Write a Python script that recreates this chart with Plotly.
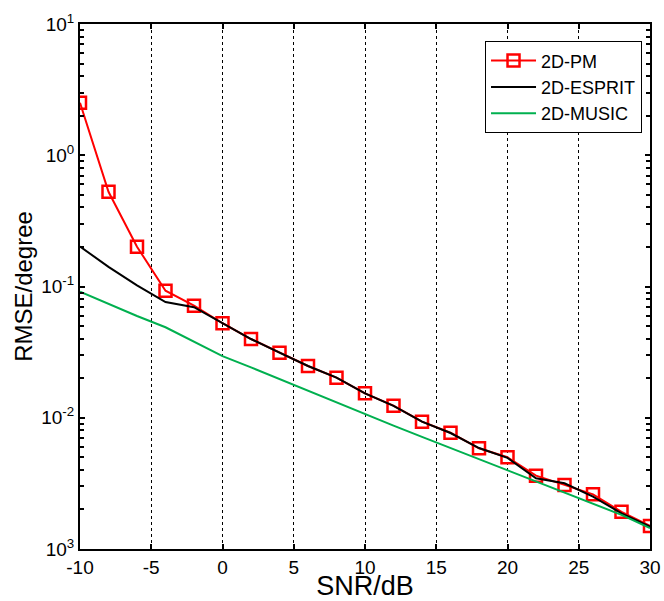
import plotly.graph_objects as go

snr = [-10, -8, -6, -4, -2, 0, 2, 4, 6, 8, 10, 12, 14, 16, 18, 20, 22, 24, 26, 28, 30]
pm = [2.51, 0.527, 0.201, 0.0929, 0.0714, 0.0525, 0.0398, 0.0313, 0.0248, 0.0202, 0.01535,
      0.01236, 0.00933, 0.00769, 0.00585, 0.0050, 0.00362, 0.00308, 0.00261, 0.00192, 0.0015]
esprit = [0.2018, 0.141, 0.102, 0.0762, 0.0695, 0.0525, 0.0398, 0.0313, 0.0248, 0.0202, 0.01535,
          0.01230, 0.00933, 0.00765, 0.00588, 0.00495, 0.00346, 0.00317, 0.00251, 0.00187, 0.00148]
music = [0.0914, 0.0738, 0.0596, 0.0489, 0.0380, 0.0295, 0.0242, 0.0197, 0.0160, 0.0131, 0.0106,
         0.00871, 0.00715, 0.00587, 0.00483, 0.00397, 0.00327, 0.00269, 0.00221, 0.00182, 0.00144]

x_ticks = [-10, -5, 0, 5, 10, 15, 20, 25, 30]
x_ticklabels = ["-10", "-5", "0", "5", "10", "15", "20", "25", "30"]
decades = [1e-3, 1e-2, 1e-1, 1e0, 1e1]
decade_labels = ["10<sup>3</sup>", "10<sup>-2</sup>", "10<sup>-1</sup>", "10<sup>0</sup>", "10<sup>1</sup>"]
minor_mult = [2, 3, 4, 5, 6, 7, 8, 9]

minor_vals = [d * m for d in decades[:-1] for m in minor_mult]

fig = go.Figure()
fig.add_trace(go.Scatter(x=snr, y=pm, name="2D-PM", mode="lines+markers",
                         line=dict(color="#ff0000", width=2),
                         marker=dict(symbol="square-open", size=12, color="#ff0000",
                                     line=dict(width=2.5, color="#ff0000"))))
fig.add_trace(go.Scatter(x=snr, y=esprit, name="2D-ESPRIT", mode="lines",
                         line=dict(color="#000000", width=2)))
fig.add_trace(go.Scatter(x=snr, y=music, name="2D-MUSIC", mode="lines",
                         line=dict(color="#00b04f", width=2)))

fig.update_layout(
    width=664, height=601,
    margin=dict(l=80, r=14, t=24, b=52),
    paper_bgcolor="white", plot_bgcolor="white",
    font=dict(family="Liberation Sans, Arial, sans-serif", size=19, color="black"),
    showlegend=True,
    legend=dict(x=0.986, y=0.967, xanchor="right", yanchor="top",
                bgcolor="white", bordercolor="black", borderwidth=1,
                font=dict(size=18), tracegroupgap=0, itemwidth=45),
)
fig.update_xaxes(
    range=[-10, 30], tickvals=x_ticks, ticktext=x_ticklabels,
    ticks="inside", ticklen=5, tickwidth=1.5, tickcolor="black",
    showline=True, linecolor="black", linewidth=2, mirror="ticks",
    showgrid=True, gridcolor="black", griddash="dot", gridwidth=1,
    zeroline=False, automargin=False,
    title=dict(text="SNR/dB", font=dict(size=27), standoff=0),
)
fig.update_yaxes(
    type="log", range=[-3, 1], tickvals=decades, ticktext=decade_labels,
    ticks="inside", ticklen=5, tickwidth=1.5, tickcolor="black",
    minor=dict(tickmode="array", tickvals=minor_vals, ticks="inside", ticklen=4,
               tickwidth=1.5, tickcolor="black", showgrid=False),
    showline=True, linecolor="black", linewidth=2, mirror="ticks",
    showgrid=False, zeroline=False, automargin=False,
    title=dict(text="RMSE/degree", font=dict(size=24), standoff=2),
)
fig.write_html("out.html", post_script="document.body.style.margin='0';",
               config={"displayModeBar": False})
